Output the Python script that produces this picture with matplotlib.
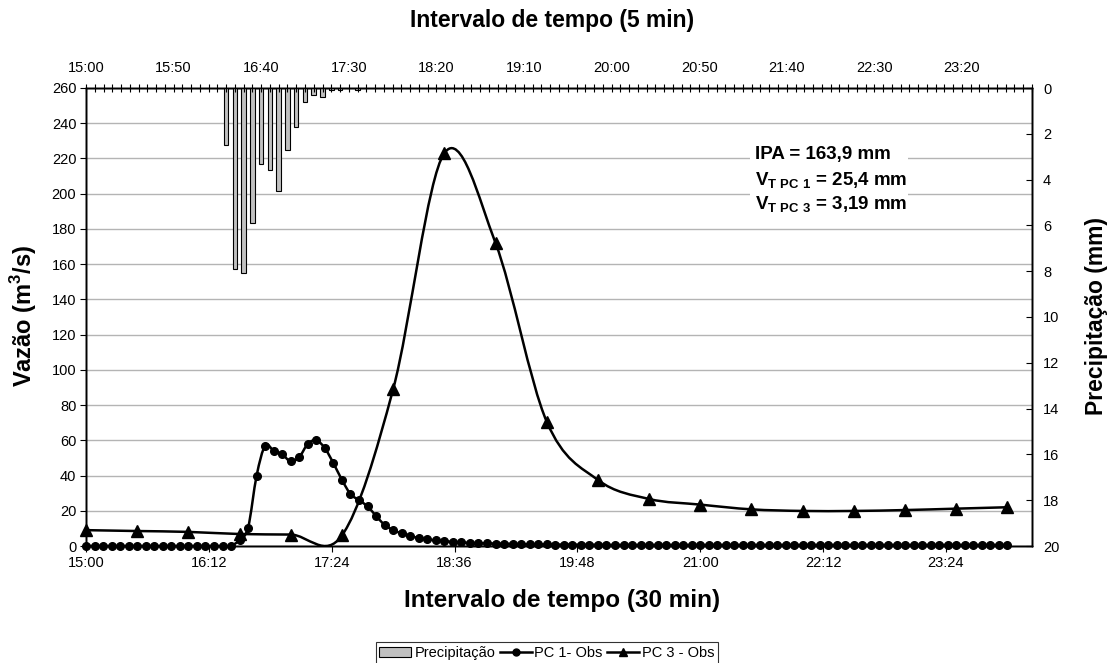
import numpy as np
import matplotlib
matplotlib.use("Agg")
import matplotlib.pyplot as plt
from matplotlib.path import Path
from matplotlib.patches import PathPatch, Patch
from matplotlib.lines import Line2D

plt.rcParams['font.family'] = ['Liberation Sans', 'DejaVu Sans']
plt.rcParams['mathtext.fontset'] = 'custom'
plt.rcParams['mathtext.rm'] = 'Liberation Sans'
plt.rcParams['mathtext.bf'] = 'Liberation Sans:bold'

# minutes after 15:00
pc1_t = np.arange(0, 545, 5)
pc1_q = [0] * 18 + [3.5, 10.5, 40, 57, 54, 52, 48, 50.5, 58, 60, 55.5, 47, 37.5, 29.5,
                    26, 22.5, 17, 12, 9, 7.2, 5.7, 4.5, 3.8, 3.2, 2.8, 2.3, 2.0, 1.8,
                    1.6, 1.5, 1.4, 1.3, 1.2, 1.1, 1.0,
                    0.9, 0.9, 0.8, 0.8, 0.8, 0.7, 0.7, 0.7] + [0.6] * 48

pc3_t = np.arange(0, 545, 30)
pc3_q = [9, 8.5, 8, 6.8, 6.5, 6, 89, 223, 172, 70.6, 37.5, 26.7, 23.5, 20.8, 19.9,
         19.9, 20.4, 21.2, 22]

rain_t = np.arange(80, 160, 5)
rain_mm = [2.5, 7.9, 8.1, 5.9, 3.3, 3.6, 4.5, 2.7, 1.7, 0.6, 0.3, 0.4, 0.1, 0.1, 0, 0.1]

bottom_ticks = np.arange(0, 541, 72)
bottom_labels = ['15:00', '16:12', '17:24', '18:36', '19:48', '21:00', '22:12', '23:24']
top_ticks = np.arange(0, 541, 50)
top_labels = ['15:00', '15:50', '16:40', '17:30', '18:20', '19:10', '20:00', '20:50',
              '21:40', '22:30', '23:20']


def smooth_path(x, y):
    # bezier segments like a spreadsheet "smoothed line"
    p = np.column_stack([x, y]).astype(float)
    n = len(p)
    verts = [p[0]]
    codes = [Path.MOVETO]
    for i in range(n - 1):
        p0 = p[max(i - 1, 0)]
        p3 = p[min(i + 2, n - 1)]
        c1 = p[i] + (p[i + 1] - p0) / 6
        c2 = p[i + 1] - (p3 - p[i]) / 6
        verts += [c1, c2, p[i + 1]]
        codes += [Path.CURVE4] * 3
    return Path(verts, codes)


fig = plt.figure(figsize=(11.14, 6.63), dpi=100)
ax = fig.add_axes([86 / 1114, 1 - 546 / 663, 946 / 1114, 458 / 663])
axr = ax.twinx()
axt = axr.twiny()

ax.set_xlim(0, 554.4)
ax.set_ylim(0, 260)
ax.set_yticks(np.arange(0, 261, 20))
ax.set_xticks(bottom_ticks)
ax.set_xticklabels(bottom_labels)
ax.grid(axis='y', color='#b4b4b4', linewidth=1.0)
ax.set_axisbelow(True)
ax.tick_params(axis='both', direction='out', length=4, width=0.8, labelsize=10.5, pad=3)

ax.add_patch(PathPatch(smooth_path(pc1_t, pc1_q), fill=False, edgecolor='black', lw=1.8, zorder=3))
ax.add_patch(PathPatch(smooth_path(pc3_t, pc3_q), fill=False, edgecolor='black', lw=1.8, zorder=3))
ax.plot(pc1_t, pc1_q, linestyle='none', marker='o', ms=5.5, color='black', zorder=4, clip_on=False)
ax.plot(pc3_t, pc3_q, linestyle='none', marker='^', ms=9, color='black', zorder=4, clip_on=False)

axr.set_ylim(20, 0)
axr.set_yticks(np.arange(0, 21, 2))
axr.tick_params(axis='y', direction='in', length=4, width=0.8, labelsize=10.5, pad=8)

axt.set_xlim(0, 540)
axt.bar(rain_t, rain_mm, width=2.6, color='#c0c0c0', edgecolor='black', linewidth=0.8)
axt.set_xticks(top_ticks)
axt.set_xticklabels(top_labels)
axt.set_xticks(np.arange(0, 541, 5), minor=True)
axt.tick_params(axis='x', which='both', direction='inout', length=6, width=0.8, labelsize=10.5, pad=6)

for a in (ax, axr, axt):
    for s in a.spines.values():
        s.set_linewidth(1.0)

# white box behind the annotation
box_x = (750 - 86) / 946 * 554.4
box_w = (908 - 750) / 946 * 554.4
ax.add_patch(plt.Rectangle((box_x, 260 - (215 - 88) / 458 * 260), box_w, (215 - 142) / 458 * 260,
                           facecolor='white', edgecolor='none', zorder=2))
ann_lines = ['IPA = 163,9 mm',
             r'$\mathbf{V_{T\ PC\ 1}}$ = 25,4 mm',
             r'$\mathbf{V_{T\ PC\ 3}}$ = 3,19 mm']
ann_y = [155, 180, 204]
for txt, yy in zip(ann_lines, ann_y):
    ax.text((755 - 86) / 946 * 554.4, 260 - (yy - 88) / 458 * 260, txt,
            fontsize=13.5, fontweight='bold', va='center', ha='left', zorder=5)

fig.text(24 / 1114, 1 - 316 / 663, 'Vazão (m$^\\mathbf{3}$/s)', rotation=90, fontsize=17,
         fontweight='bold', ha='center', va='center')
fig.text(1097 / 1114, 1 - 316 / 663, 'Precipitação (mm)', rotation=90, fontsize=16.5,
         fontweight='bold', ha='center', va='center')
fig.text(562 / 1114, 1 - 600 / 663, 'Intervalo de tempo (30 min)', fontsize=17.5,
         fontweight='bold', ha='center', va='center')
fig.text(552 / 1114, 1 - 20 / 663, 'Intervalo de tempo (5 min)', fontsize=16.5,
         fontweight='bold', ha='center', va='center')

handles = [Patch(facecolor='#c0c0c0', edgecolor='black', linewidth=0.8),
           Line2D([], [], color='black', lw=1.8, marker='o', ms=5),
           Line2D([], [], color='black', lw=1.8, marker='^', ms=6)]
leg = fig.legend(handles, ['Precipitação', 'PC 1- Obs', 'PC 3 - Obs'], loc='center',
                 bbox_to_anchor=(547 / 1114, 1 - 653 / 663), ncol=3, fontsize=10.5,
                 frameon=True, fancybox=False, handlelength=2.2, handleheight=0.7,
                 handletextpad=0.2, columnspacing=0.3, borderpad=0.25)
leg.get_frame().set_edgecolor('black')
leg.get_frame().set_linewidth(0.8)

fig.savefig('out.png', dpi=100)
